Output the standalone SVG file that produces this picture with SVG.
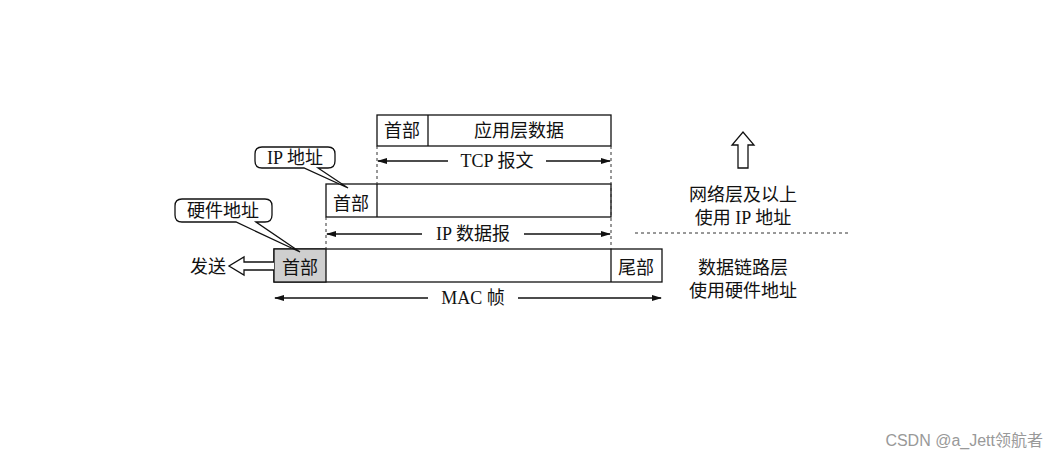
<svg xmlns="http://www.w3.org/2000/svg" width="1060" height="459" viewBox="0 0 1060 459">
<style>
text{font-family:"Liberation Serif","Noto Sans CJK SC",serif;font-size:18px;fill:#111}
.b{fill:#fff;stroke:#111;stroke-width:1.3}
.d{stroke:#333;stroke-width:1;stroke-dasharray:3,3;fill:none}
.a{stroke:#111;stroke-width:1.3;fill:none;marker-start:url(#h)}
.m{text-anchor:middle}
</style>
<defs>
<marker id="h" markerWidth="10" markerHeight="6" refX="9" refY="3" orient="auto-start-reverse" markerUnits="userSpaceOnUse"><path d="M0,0 L10,3 L0,6 Z" fill="#111"/></marker>
</defs>
<rect width="1060" height="459" fill="#fff"/>
<g id="tcp">
<rect class="b" x="377" y="115" width="234" height="31"/>
<line x1="428" y1="115" x2="428" y2="146" stroke="#111" stroke-width="1.3"/>
<text x="402" y="137" class="m">首部</text>
<text x="519" y="137" class="m">应用层数据</text>
</g>
<g id="ip">
<rect class="b" x="326" y="184" width="285" height="33"/>
<line x1="377" y1="184" x2="377" y2="217" stroke="#111" stroke-width="1.3"/>
<text x="351" y="210" class="m">首部</text>
</g>
<g id="mac">
<rect class="b" x="274" y="249" width="388" height="33"/>
<rect x="274" y="249" width="52" height="33" fill="#cfcfcf" stroke="#111" stroke-width="1.3"/>
<line x1="611" y1="249" x2="611" y2="282" stroke="#111" stroke-width="1.3"/>
<text x="300" y="274" class="m">首部</text>
<text x="636" y="274" class="m">尾部</text>
</g>
<g id="callout-ip">
<path d="M262,147 H328 Q335,147 335,154 V161 Q335,168 328,168 H318 L348,188 L304,168 H262 Q255,168 255,161 V154 Q255,147 262,147 Z" fill="#fff" stroke="#111" stroke-width="1.3"/>
<text x="295" y="164" class="m">IP 地址</text>
</g>
<g id="callout-hw">
<path d="M182,199 H265 Q272,199 272,206 V215 Q272,222 265,222 H256 L300,252 L236,222 H182 Q175,222 175,215 V206 Q175,199 182,199 Z" fill="#fff" stroke="#111" stroke-width="1.3"/>
<text x="223" y="217" class="m">硬件地址</text>
</g>
<g id="send">
<path d="M274,262 H244 V257 L229,266 L244,275 V270 H274" fill="#fff" stroke="#111" stroke-width="1.3"/>
<text x="208" y="273" class="m">发送</text>
</g>
<g id="up">
<path d="M738,168 V145 H732 L743,132 L754,145 H748 V168 Z" fill="#fff" stroke="#111" stroke-width="1.3"/>
</g>
<g id="labels">
<text x="743" y="201" class="m">网络层及以上</text>
<text x="743" y="224" class="m">使用 IP 地址</text>
<text x="743" y="274" class="m">数据链路层</text>
<text x="743" y="297" class="m">使用硬件地址</text>
</g>
<g id="connectors">
<line class="d" x1="377" y1="146" x2="377" y2="184"/>
<line class="d" x1="611" y1="146" x2="611" y2="249"/>
<line class="d" x1="326" y1="217" x2="326" y2="249"/>
<line class="d" x1="635" y1="233" x2="850" y2="233"/>
<line class="a" x1="378" y1="161" x2="448" y2="161"/>
<line class="a" x1="610" y1="161" x2="546" y2="161"/>
<line class="a" x1="327" y1="234" x2="422" y2="234"/>
<line class="a" x1="610" y1="234" x2="524" y2="234"/>
<line class="a" x1="275" y1="298" x2="428" y2="298"/>
<line class="a" x1="661" y1="298" x2="518" y2="298"/>
</g>
<text x="497" y="167" class="m">TCP 报文</text>
<text x="473" y="240" class="m">IP 数据报</text>
<text x="473" y="304" class="m">MAC 帧</text>
<text x="1043" y="446" style="font-family:'Liberation Sans','Noto Sans CJK SC',sans-serif;font-size:16px;fill:#999;text-anchor:end">CSDN @a_Jett领航者</text>
</svg>
